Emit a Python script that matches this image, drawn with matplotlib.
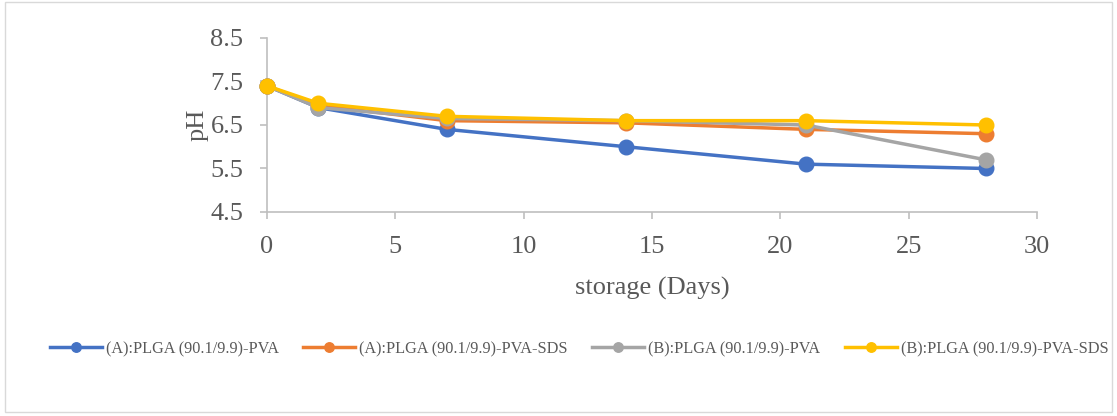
import matplotlib
matplotlib.use("Agg")
import matplotlib.pyplot as plt
from matplotlib.patches import Rectangle

plt.rcParams['font.family'] = ['Liberation Serif', 'DejaVu Serif']

days = [0, 2, 7, 14, 21, 28]
a_pva = [7.4, 6.9, 6.4, 6.0, 5.6, 5.5]
a_pva_sds = [7.4, 6.95, 6.6, 6.55, 6.4, 6.3]
b_pva = [7.4, 6.9, 6.65, 6.6, 6.5, 5.7]
b_pva_sds = [7.4, 7.0, 6.7, 6.6, 6.6, 6.5]

names = ["(A):PLGA (90.1/9.9)-PVA", "(A):PLGA (90.1/9.9)-PVA-SDS",
         "(B):PLGA (90.1/9.9)-PVA", "(B):PLGA (90.1/9.9)-PVA-SDS"]
colors = ["#4472C4", "#ED7D31", "#A5A5A5", "#FFC000"]
series = [a_pva, a_pva_sds, b_pva, b_pva_sds]

W, H = 1117, 416
fig = plt.figure(figsize=(W / 100, H / 100), dpi=100)
ax = fig.add_axes([267 / W, 1 - 212 / H, (1037 - 267) / W, (212 - 38) / H])

# chart frame
fig.patches.append(Rectangle((5 / W, 4 / H), 1107 / W, 410 / H, transform=fig.transFigure,
                             fill=False, edgecolor="#D9D9D9", linewidth=1))

for vals, c, n in zip(series, colors, names):
    ax.plot(days, vals, color=c, linewidth=2.5, marker="o", markersize=10.5, label=n,
            clip_on=False)

ax.set_xlim(0, 30)
ax.set_ylim(4.5, 8.5)
ax.set_xticks([0, 5, 10, 15, 20, 25, 30])
ax.set_yticks([4.5, 5.5, 6.5, 7.5, 8.5])
ax.set_yticklabels(["4.5", "5.5", "6.5", "7.5", "8.5"])

for s in ["top", "right"]:
    ax.spines[s].set_visible(False)
for s in ["left", "bottom"]:
    ax.spines[s].set_color("#BFBFBF")
    ax.spines[s].set_linewidth(1.2)
    ax.spines[s].set_zorder(0)
ax.tick_params(axis="both", colors="#BFBFBF", labelcolor="#595959", labelsize=19,
               length=5, width=1.2, direction="out")
ax.tick_params(axis="x", pad=12)
ax.tick_params(axis="y", pad=12)
ax.set_xlabel("storage (Days)", fontsize=19, color="#595959", labelpad=14)
ax.set_ylabel("pH", fontsize=19, color="#595959", labelpad=1)

fig.legend(loc="center", bbox_to_anchor=(579 / W, 1 - 349 / H), ncol=4, frameon=False,
           fontsize=11.7, handlelength=3.2, handletextpad=0.25, markerscale=0.65,
           columnspacing=1.5, labelcolor="#595959")

fig.savefig("out.png", dpi=100)
